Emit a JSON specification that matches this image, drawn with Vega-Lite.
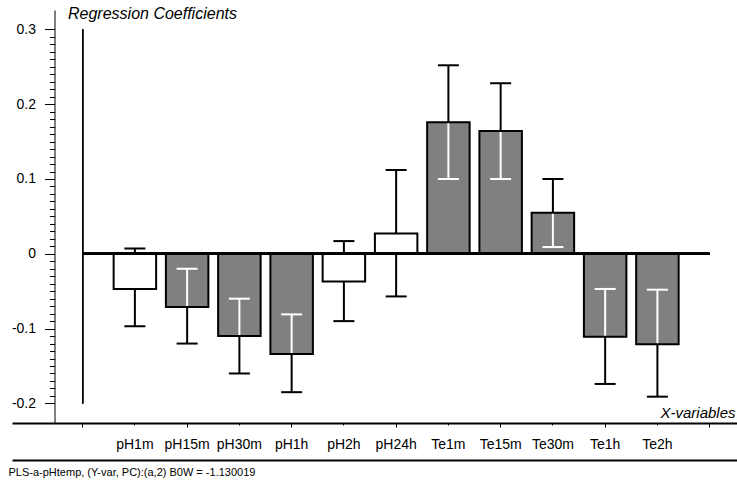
{
  "$schema": "https://vega.github.io/schema/vega-lite/v6.json",
  "width": 725,
  "height": 413,
  "autosize": {"type": "none"},
  "padding": {"left": 12, "top": 10, "right": 0, "bottom": 61},
  "background": "white",
  "config": {
    "view": {"stroke": null},
    "font": "Liberation Sans",
    "axis": {
      "grid": false,
      "domainColor": "black",
      "tickColor": "black",
      "labelColor": "black",
      "titleColor": "black",
      "titleFontWeight": "normal"
    }
  },
  "data": {
    "values": [
      {"var": "pH1m", "coef": -0.047, "lo": -0.097, "hi": 0.007},
      {"var": "pH15m", "coef": -0.071, "lo": -0.120, "hi": -0.020},
      {"var": "pH30m", "coef": -0.110, "lo": -0.160, "hi": -0.060},
      {"var": "pH1h", "coef": -0.134, "lo": -0.185, "hi": -0.081},
      {"var": "pH2h", "coef": -0.037, "lo": -0.090, "hi": 0.017},
      {"var": "pH24h", "coef": 0.027, "lo": -0.057, "hi": 0.112},
      {"var": "Te1m", "coef": 0.176, "lo": 0.100, "hi": 0.252},
      {"var": "Te15m", "coef": 0.164, "lo": 0.100, "hi": 0.228},
      {"var": "Te30m", "coef": 0.055, "lo": 0.009, "hi": 0.100},
      {"var": "Te1h", "coef": -0.111, "lo": -0.174, "hi": -0.047},
      {"var": "Te2h", "coef": -0.121, "lo": -0.191, "hi": -0.048}
    ]
  },
  "resolve": {"axis": {"x": "independent", "y": "independent"}},
  "layer": [
    {
      "mark": {"type": "rule", "strokeWidth": 2, "color": "black"},
      "encoding": {
        "x": {
          "field": "var", "type": "nominal",
          "scale": {"type": "band", "domain": [" ", "pH1m", "pH15m", "pH30m", "pH1h", "pH2h", "pH24h", "Te1m", "Te15m", "Te30m", "Te1h", "Te2h", "  "], "paddingInner": 0.187, "paddingOuter": 0.531, "align": 0.89},
          "axis": {
            "orient": "bottom", "domainWidth": 2, "tickSize": 2, "tickWidth": 1,
            "labelFontSize": 14, "labelPadding": 12, "labelAngle": 0, "labelOverlap": false,
            "title": "X-variables", "titleFontStyle": "italic", "titleFontSize": 15,
            "titleAlign": "right", "titleBaseline": "alphabetic", "titleX": 723, "titleY": -6
          }
        },
        "y": {
          "field": "lo", "type": "quantitative",
          "scale": {"domain": [-0.2262, 0.3259], "nice": false, "zero": false},
          "axis": {
            "orient": "left", "offset": -42.5, "values": [-0.2, -0.1, 0, 0.1, 0.2, 0.3],
            "tickSize": 10, "tickWidth": 1, "domainWidth": 1,
            "labelFontSize": 14, "labelPadding": 9,
            "labelExpr": "datum.value == 0 ? '0' : replace(format(datum.value, '.1f'), '\u2212', '-')",
            "title": "Regression Coefficients", "titleAngle": 0, "titleFontStyle": "italic", "titleFontSize": 16,
            "titleAlign": "left", "titleBaseline": "alphabetic", "titleX": 13, "titleY": 8.5
          }
        },
        "y2": {"field": "hi"}
      }
    },
    {
      "mark": {"type": "bar", "strokeWidth": 0},
      "encoding": {
        "x": {
          "field": "var", "type": "nominal",
          "scale": {"type": "band", "domain": [" ", "pH1m", "pH15m", "pH30m", "pH1h", "pH2h", "pH24h", "Te1m", "Te15m", "Te30m", "Te1h", "Te2h", "  "], "paddingInner": 0.187, "paddingOuter": 0.531, "align": 0.89},
          "axis": null
        },
        "y": {"field": "coef", "type": "quantitative", "scale": {"domain": [-0.2262, 0.3259], "nice": false, "zero": false}, "axis": null},
        "y2": {"datum": 0},
        "fill": {"condition": {"test": "datum.lo > 0 || datum.hi < 0", "value": "#808080"}, "value": "white"}
      }
    },
    {
      "transform": [
        {"calculate": "max(datum.lo, min(0, datum.coef))", "as": "wlo"},
        {"calculate": "min(datum.hi, max(0, datum.coef))", "as": "whi"}
      ],
      "mark": {"type": "rule", "strokeWidth": 2, "color": "white"},
      "encoding": {
        "x": {
          "field": "var", "type": "nominal",
          "scale": {"type": "band", "domain": [" ", "pH1m", "pH15m", "pH30m", "pH1h", "pH2h", "pH24h", "Te1m", "Te15m", "Te30m", "Te1h", "Te2h", "  "], "paddingInner": 0.187, "paddingOuter": 0.531, "align": 0.89},
          "axis": null
        },
        "y": {"field": "wlo", "type": "quantitative", "scale": {"domain": [-0.2262, 0.3259], "nice": false, "zero": false}, "axis": null},
        "y2": {"field": "whi"}
      }
    },
    {
      "transform": [{"fold": ["lo", "hi"], "as": ["end", "val"]}],
      "mark": {"type": "tick", "size": 21, "thickness": 2, "opacity": 1},
      "encoding": {
        "x": {
          "field": "var", "type": "nominal",
          "scale": {"type": "band", "domain": [" ", "pH1m", "pH15m", "pH30m", "pH1h", "pH2h", "pH24h", "Te1m", "Te15m", "Te30m", "Te1h", "Te2h", "  "], "paddingInner": 0.187, "paddingOuter": 0.531, "align": 0.89},
          "axis": null
        },
        "y": {"field": "val", "type": "quantitative", "scale": {"domain": [-0.2262, 0.3259], "nice": false, "zero": false}, "axis": null},
        "color": {"condition": {"test": "datum.val * (datum.val - datum.coef) < 0", "value": "white"}, "value": "black"}
      }
    },
    {
      "mark": {"type": "bar", "fillOpacity": 0, "stroke": "black", "strokeWidth": 2},
      "encoding": {
        "x": {
          "field": "var", "type": "nominal",
          "scale": {"type": "band", "domain": [" ", "pH1m", "pH15m", "pH30m", "pH1h", "pH2h", "pH24h", "Te1m", "Te15m", "Te30m", "Te1h", "Te2h", "  "], "paddingInner": 0.187, "paddingOuter": 0.531, "align": 0.89},
          "axis": null
        },
        "y": {"field": "coef", "type": "quantitative", "scale": {"domain": [-0.2262, 0.3259], "nice": false, "zero": false}, "axis": null},
        "y2": {"datum": 0}
      }
    },
    {
      "mark": {"type": "rule", "strokeWidth": 2, "color": "black"},
      "encoding": {
        "x": {
          "datum": " ",
          "scale": {"type": "band", "domain": [" ", "pH1m", "pH15m", "pH30m", "pH1h", "pH2h", "pH24h", "Te1m", "Te15m", "Te30m", "Te1h", "Te2h", "  "], "paddingInner": 0.187, "paddingOuter": 0.531, "align": 0.89},
          "axis": {
            "orient": "bottom", "offset": 37, "domainWidth": 2, "ticks": false, "labels": false,
            "title": "PLS-a-pHtemp, (Y-var, PC):(a,2) B0W = -1.130019",
            "titleFontSize": 11, "titleAlign": "left", "titleBaseline": "alphabetic", "titleX": -4, "titleY": 15
          }
        },
        "x2": {"datum": "  "},
        "y": {"datum": 0, "scale": {"domain": [-0.2262, 0.3259], "nice": false, "zero": false}, "axis": null}
      }
    },
    {
      "mark": {"type": "rule", "strokeWidth": 1, "color": "black"},
      "encoding": {
        "x": {
          "datum": " ",
          "scale": {"type": "band", "domain": [" ", "pH1m", "pH15m", "pH30m", "pH1h", "pH2h", "pH24h", "Te1m", "Te15m", "Te30m", "Te1h", "Te2h", "  "], "paddingInner": 0.187, "paddingOuter": 0.531, "align": 0.89},
          "axis": {
            "orient": "bottom", "values": [" ", "pH15m", "pH1h", "pH24h", "Te15m", "Te1h", "  "],
            "tickSize": 4, "tickWidth": 1, "labels": false, "domain": false, "title": null
          }
        },
        "y": {
          "datum": -0.2,
          "scale": {"domain": [-0.2262, 0.3259], "nice": false, "zero": false},
          "axis": {
            "orient": "left", "offset": -42.5, "tickSize": 5, "tickWidth": 1, "labels": false, "domain": false, "title": null,
            "values": [-0.2, -0.19, -0.18, -0.17, -0.16, -0.15, -0.14, -0.13, -0.12, -0.11, -0.1, -0.09, -0.08, -0.07, -0.06, -0.05, -0.04, -0.03, -0.02, -0.01, 0, 0.01, 0.02, 0.03, 0.04, 0.05, 0.06, 0.07, 0.08, 0.09, 0.1, 0.11, 0.12, 0.13, 0.14, 0.15, 0.16, 0.17, 0.18, 0.19, 0.2, 0.21, 0.22, 0.23, 0.24, 0.25, 0.26, 0.27, 0.28, 0.29, 0.3]
          }
        },
        "y2": {"datum": 0.3}
      }
    }
  ]
}
